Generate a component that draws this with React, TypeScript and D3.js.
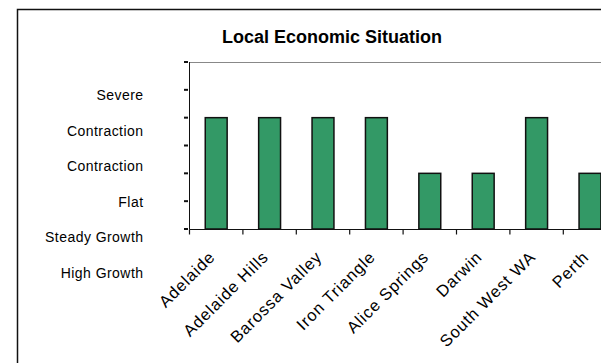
import React from "react";
import * as d3 from "d3";

const categories = ["Adelaide", "Adelaide Hills", "Barossa Valley", "Iron Triangle", "Alice Springs", "Darwin", "South West WA", "Perth"];
const values = [4, 4, 4, 4, 2, 2, 4, 2];
const yTickValues = [0, 1, 2, 3, 4, 5, 6];
const yLabels = ["Severe", "Contraction", "Contraction", "Flat", "Steady Growth", "High Growth"];
const title = "Local Economic Situation";

const W = 601;
const H = 363;
const FONT = "'Liberation Sans', Arial, sans-serif";

export default function App() {
  const axisX = 189.5;
  const step = 53.4;
  const x = d3.scaleBand<string>().domain(categories).range([axisX, axisX + step * categories.length]).padding(0);
  const y = d3.scaleLinear().domain([0, 6]).range([229, 62]);
  const yl = d3.scalePoint<string>().domain(yLabels.map((d, i) => i + "")).range([95, 273]);
  const barW = x.bandwidth() * 0.41;
  const boundaries = d3.range(categories.length + 1).map((i) => axisX + i * step);

  return (
    <svg width={W} height={H} style={{ position: "fixed", left: 0, top: 0, background: "#fff" }} fontFamily={FONT}>
      <rect x={0} y={0} width={W} height={H} fill="#fff" />
      {/* outer frame */}
      <path d={`M17.5,${H + 5} L17.5,9.5 L${W + 5},9.5`} fill="none" stroke="#111" strokeWidth={1.5} />
      <text x={332} y={43} textAnchor="middle" fontSize={18} fontWeight="bold" fill="#000">{title}</text>
      {/* plot area top border */}
      <line x1={axisX} x2={W + 5} y1={62.5} y2={62.5} stroke="#888" strokeWidth={1.2} />
      {/* bars */}
      {categories.map((c, i) => (
        <rect key={c}
          x={(x(c) as number) + x.bandwidth() / 2 - barW / 2}
          y={y(values[i])}
          width={barW}
          height={y(0) - y(values[i])}
          fill="#339966" stroke="#111" strokeWidth={1.5} />
      ))}
      {/* y axis */}
      <line x1={axisX} x2={axisX} y1={62} y2={229.5} stroke="#111" strokeWidth={1} />
      {yTickValues.map((v) => (
        <line key={v} x1={184} x2={188} y1={y(v)} y2={y(v)} stroke="#111" strokeWidth={2} />
      ))}
      {/* x axis */}
      <line x1={axisX} x2={W + 5} y1={229.5} y2={229.5} stroke="#111" strokeWidth={1.2} />
      {boundaries.map((b, i) => (
        <line key={i} x1={b} x2={b} y1={229.5} y2={234.5} stroke="#111" strokeWidth={1.2} />
      ))}
      {/* y labels */}
      {yLabels.map((l, i) => (
        <text key={i} x={143.5} y={(yl(i + "") as number) + 5} textAnchor="end" fontSize={14} letterSpacing={0.45} fill="#000">{l}</text>
      ))}
      {/* x labels */}
      {categories.map((c) => {
        const cx = (x(c) as number) + x.bandwidth() / 2;
        const cy = 258;
        return (
          <text key={c} x={cx} y={cy} textAnchor="end" fontSize={16.5} letterSpacing={0.9} fill="#000"
            transform={`rotate(-45, ${cx}, ${cy})`}>{c}</text>
        );
      })}
    </svg>
  );
}
